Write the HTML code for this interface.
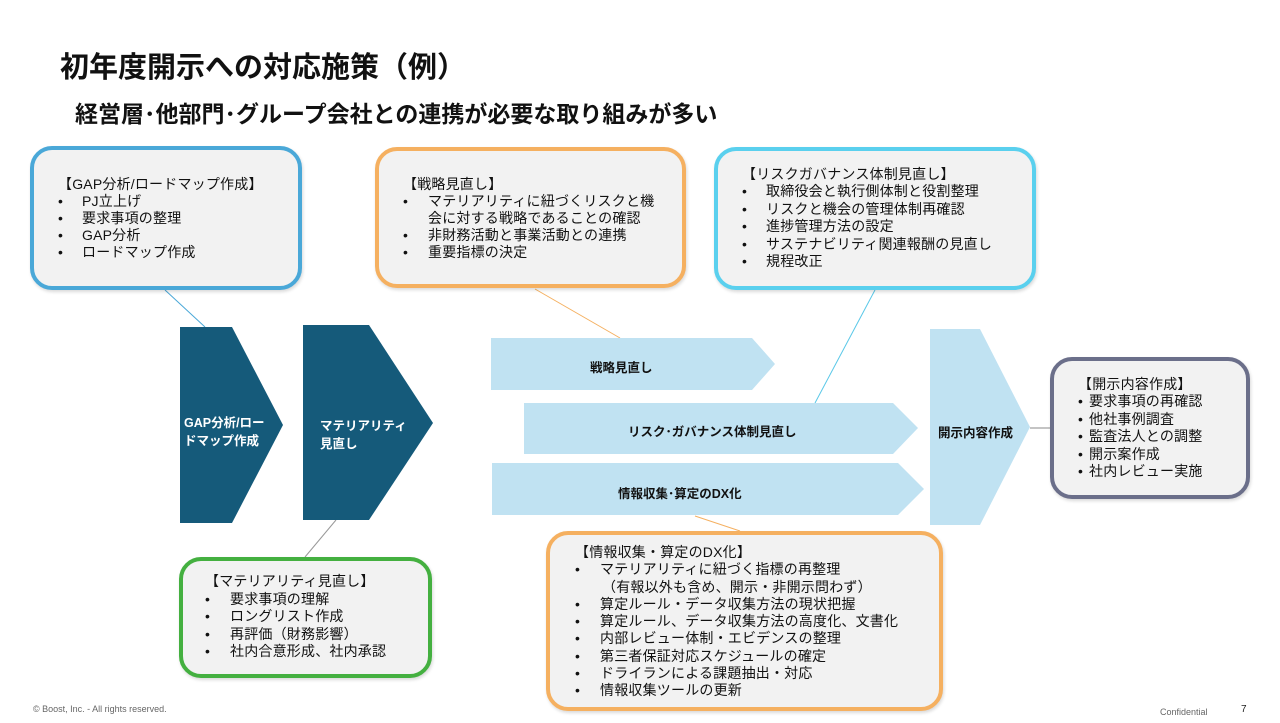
<!DOCTYPE html>
<html><head><meta charset="utf-8"><style>
body{margin:0;width:1280px;height:723px;background:#fff;position:relative;overflow:hidden;font-family:"Liberation Sans","Noto Sans CJK JP",sans-serif;color:#111}
.a{position:absolute;white-space:nowrap}
.box{position:absolute;box-sizing:border-box;border:4px solid;border-radius:22px;background:#f2f2f2;box-shadow:1px 2px 3px rgba(0,0,0,.15)}
.txt{position:absolute;font-size:14px;letter-spacing:0.2px;line-height:17px;white-space:nowrap}
.txt div{position:relative}
.txt .b{position:absolute;left:0}
.lbl{position:absolute;font-size:12.5px;font-weight:bold;white-space:nowrap}
</style></head><body>
<div class="a" style="left:60px;top:44px;font-size:29px;font-weight:bold">初年度開示への対応施策（例）</div>
<div class="a" style="left:75px;top:95px;font-size:23px;font-weight:bold">経営層･他部門･グループ会社との連携が必要な取り組みが多い</div>

<svg width="1280" height="723" style="position:absolute;left:0;top:0">
<g stroke-width="1" fill="none">
<line x1="165" y1="290" x2="205" y2="327" stroke="#4aa8d8"/>
<line x1="535" y1="289" x2="620" y2="338" stroke="#f5b060"/>
<line x1="875" y1="290" x2="815" y2="403" stroke="#5ac8e8"/>
<line x1="695" y1="516" x2="740" y2="531" stroke="#f5b060"/>
<line x1="336" y1="520" x2="305" y2="557" stroke="#999"/>
<line x1="1030" y1="428" x2="1050" y2="428" stroke="#888"/>
</g>
<polygon points="180,327 232,327 283,425 232,523 180,523" fill="#155a7a"/>
<polygon points="303,325 369,325 433,423 369,520 303,520" fill="#155a7a"/>
<polygon points="491,338 752,338 775,364 752,390 491,390" fill="#c0e2f2"/>
<polygon points="524,403 893,403 918,428 893,454 524,454" fill="#c0e2f2"/>
<polygon points="492,463 898,463 924,489 898,515 492,515" fill="#c0e2f2"/>
<polygon points="930,329 980,329 1030,427 980,525 930,525" fill="#c0e2f2"/>
</svg>
<div class="lbl" style="left:184px;top:414px;color:#fff;line-height:18px">GAP分析/ロー<br>ドマップ作成</div>
<div class="lbl" style="left:320px;top:417px;color:#fff;line-height:18px">マテリアリティ<br>見直し</div>
<div class="lbl" style="left:590px;top:357px">戦略見直し</div>
<div class="lbl" style="left:628px;top:421px">リスク･ガバナンス体制見直し</div>
<div class="lbl" style="left:618px;top:483px">情報収集･算定のDX化</div>
<div class="lbl" style="left:938px;top:422px">開示内容作成</div>

<div class="box" style="left:30px;top:146px;width:272px;height:144px;border-color:#4aa8d8"></div>
<div class="txt" style="left:58px;top:176px"><div>【GAP分析/ロードマップ作成】</div>
<div><span class="b">•</span><span style="padding-left:24px">PJ立上げ</span></div>
<div><span class="b">•</span><span style="padding-left:24px">要求事項の整理</span></div>
<div><span class="b">•</span><span style="padding-left:24px">GAP分析</span></div>
<div><span class="b">•</span><span style="padding-left:24px">ロードマップ作成</span></div></div>

<div class="box" style="left:375px;top:147px;width:311px;height:141px;border-color:#f5b060"></div>
<div class="txt" style="left:403px;top:176px"><div>【戦略見直し】</div>
<div><span class="b">•</span><span style="padding-left:25px">マテリアリティに紐づくリスクと機</span></div>
<div><span style="padding-left:25px">会に対する戦略であることの確認</span></div>
<div><span class="b">•</span><span style="padding-left:25px">非財務活動と事業活動との連携</span></div>
<div><span class="b">•</span><span style="padding-left:25px">重要指標の決定</span></div></div>

<div class="box" style="left:714px;top:147px;width:322px;height:143px;border-color:#5ad0ee"></div>
<div class="txt" style="left:742px;top:166px;line-height:17.4px"><div>【リスクガバナンス体制見直し】</div>
<div><span class="b">•</span><span style="padding-left:24px">取締役会と執行側体制と役割整理</span></div>
<div><span class="b">•</span><span style="padding-left:24px">リスクと機会の管理体制再確認</span></div>
<div><span class="b">•</span><span style="padding-left:24px">進捗管理方法の設定</span></div>
<div><span class="b">•</span><span style="padding-left:24px">サステナビリティ関連報酬の見直し</span></div>
<div><span class="b">•</span><span style="padding-left:24px">規程改正</span></div></div>

<div class="box" style="left:1050px;top:357px;width:200px;height:142px;border-color:#6b6f8a"></div>
<div class="txt" style="left:1078px;top:376px;line-height:17.4px"><div>【開示内容作成】</div>
<div><span class="b">•</span><span style="padding-left:11px">要求事項の再確認</span></div>
<div><span class="b">•</span><span style="padding-left:11px">他社事例調査</span></div>
<div><span class="b">•</span><span style="padding-left:11px">監査法人との調整</span></div>
<div><span class="b">•</span><span style="padding-left:11px">開示案作成</span></div>
<div><span class="b">•</span><span style="padding-left:11px">社内レビュー実施</span></div></div>

<div class="box" style="left:179px;top:557px;width:253px;height:121px;border-color:#44b040"></div>
<div class="txt" style="left:205px;top:573px;line-height:17.5px"><div>【マテリアリティ見直し】</div>
<div><span class="b">•</span><span style="padding-left:25px">要求事項の理解</span></div>
<div><span class="b">•</span><span style="padding-left:25px">ロングリスト作成</span></div>
<div><span class="b">•</span><span style="padding-left:25px">再評価（財務影響）</span></div>
<div><span class="b">•</span><span style="padding-left:25px">社内合意形成、社内承認</span></div></div>

<div class="box" style="left:546px;top:531px;width:397px;height:180px;border-color:#f5b060"></div>
<div class="txt" style="left:575px;top:544px;line-height:17.3px"><div>【情報収集・算定のDX化】</div>
<div><span class="b">•</span><span style="padding-left:25px">マテリアリティに紐づく指標の再整理</span></div>
<div><span style="padding-left:27px">（有報以外も含め、開示・非開示問わず）</span></div>
<div><span class="b">•</span><span style="padding-left:25px">算定ルール・データ収集方法の現状把握</span></div>
<div><span class="b">•</span><span style="padding-left:25px">算定ルール、データ収集方法の高度化、文書化</span></div>
<div><span class="b">•</span><span style="padding-left:25px">内部レビュー体制・エビデンスの整理</span></div>
<div><span class="b">•</span><span style="padding-left:25px">第三者保証対応スケジュールの確定</span></div>
<div><span class="b">•</span><span style="padding-left:25px">ドライランによる課題抽出・対応</span></div>
<div><span class="b">•</span><span style="padding-left:25px">情報収集ツールの更新</span></div></div>

<div class="a" style="left:33px;top:704px;font-size:9px;color:#666">© Boost, Inc. - All rights reserved.</div>
<div class="a" style="left:1160px;top:707px;font-size:9px;color:#666">Confidential</div>
<div class="a" style="left:1241px;top:704px;font-size:10px;color:#222">7</div>
</body></html>
